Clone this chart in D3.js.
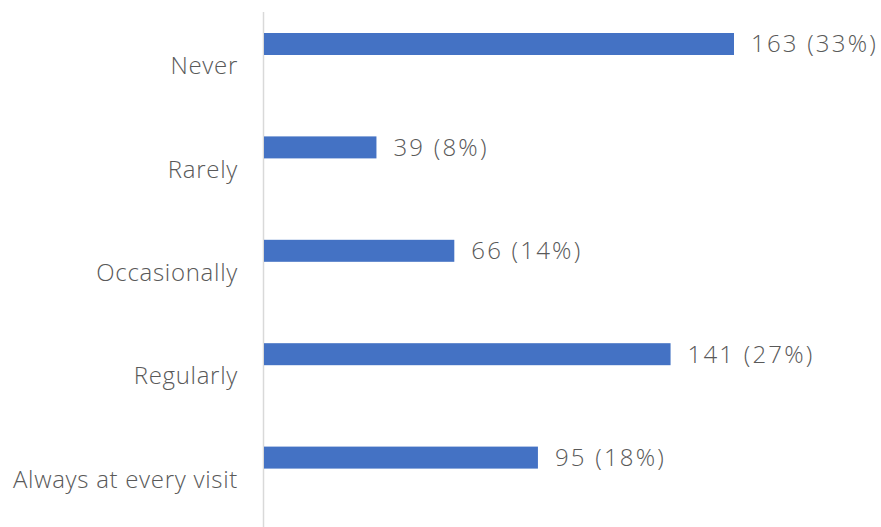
<!DOCTYPE html>
<html><head><meta charset="utf-8">
<script src="https://cdn.jsdelivr.net/npm/d3@7"></script>
<style>body{margin:0;background:#fff}svg{display:block}text{font-family:"Open Sans",sans-serif;font-weight:300;fill:#595959}</style>
</head><body><svg id="c" width="881" height="527"></svg>
<script>
const categories = ["Never","Rarely","Occasionally","Regularly","Always at every visit"];
const counts = [163,39,66,141,95];
const percents = ["33%","8%","14%","27%","18%"];

const svg = d3.select("#c");
const x0 = 264;
const x = d3.scaleLinear().domain([0,163]).range([x0,734]);
const y = d3.scaleBand().domain(categories).range([12,529]);

svg.append("line").attr("x1",263.5).attr("x2",263.5).attr("y1",12).attr("y2",527)
  .attr("stroke","#d9d9d9").attr("stroke-width",1.5);

const g = svg.selectAll("g.row").data(categories).enter().append("g");
g.append("rect")
  .attr("x",x0).attr("y",d=>y(d)+21)
  .attr("width",(d,i)=>x(counts[i])-x0).attr("height",22)
  .attr("fill","#4472c4");
g.append("text")
  .attr("x",(d,i)=>x(counts[i])+17).attr("y",d=>y(d)+32)
  .attr("dy","0.35em").attr("font-size",24).attr("letter-spacing",2.2)
  .text((d,i)=>`${counts[i]} (${percents[i]})`);
g.append("text")
  .attr("x",238).attr("y",d=>y(d)+y.bandwidth()/2+2)
  .attr("dy","0.35em").attr("text-anchor","end").attr("font-size",24).attr("letter-spacing",0.7)
  .text(d=>d);
</script></body></html>
